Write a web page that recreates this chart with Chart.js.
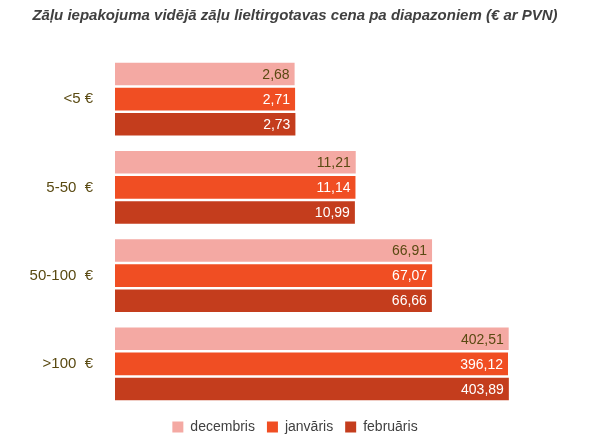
<!DOCTYPE html>
<html><head><meta charset="utf-8">
<script src="https://cdn.jsdelivr.net/npm/chart.js@4"></script>
<style>html,body{margin:0;padding:0;background:#fff}#w{width:597px;height:444px}</style>
</head><body><div id="w"><canvas id="c"></canvas></div>
<script>
const categories = ['<5 €', '5-50  €', '50-100  €', '>100  €'];
const decembris = [2.68, 11.21, 66.91, 402.51];
const janvaris = [2.71, 11.14, 67.07, 396.12];
const februaris = [2.73, 10.99, 66.66, 403.89];
const seriesNames = ['decembris', 'janvāris', 'februāris'];
const colors = ['#F4A9A3', '#F04E23', '#C43D1D'];
const labelColors = ['#5A4A12', '#FFFFFF', '#FFFFFF'];

const valueLabels = {
  id: 'valueLabels',
  afterDatasetsDraw(chart) {
    const ctx = chart.ctx;
    ctx.save();
    ctx.font = '14px "Liberation Sans", Arial, sans-serif';
    ctx.textAlign = 'right';
    ctx.textBaseline = 'middle';
    chart.data.datasets.forEach((ds, i) => {
      chart.getDatasetMeta(i).data.forEach((el, j) => {
        ctx.fillStyle = labelColors[i];
        ctx.fillText(ds.data[j].toFixed(2).replace('.', ','), el.x - 5, el.y + 1);
      });
    });
    ctx.restore();
  }
};

new Chart(document.getElementById('c'), {
  type: 'bar',
  data: {
    labels: categories,
    datasets: [decembris, janvaris, februaris].map((d, i) => ({
      label: seriesNames[i], data: d, backgroundColor: colors[i],
      categoryPercentage: 0.85, barPercentage: 0.9
    }))
  },
  options: {
    indexAxis: 'y', responsive: true, maintainAspectRatio: false, animation: false,
    layout: { padding: { left: 0, right: 7, top: 5, bottom: 0 } },
    plugins: {
      title: { display: true, text: 'Zāļu iepakojuma vidējā zāļu lieltirgotavas cena pa diapazoniem (€ ar PVN)',
        color: '#404040', font: { family: '"Liberation Sans", Arial', size: 15, weight: 'bold', style: 'italic' },
        padding: { top: 2, bottom: 30 } },
      legend: { position: 'bottom', labels: { boxWidth: 11, boxHeight: 11, padding: 12, color: '#404040',
        font: { family: '"Liberation Sans", Arial', size: 14 } } },
      tooltip: { enabled: false }
    },
    scales: {
      x: { type: 'logarithmic', min: 0.04, max: 2700, display: false },
      y: { grid: { display: false }, border: { display: false },
        ticks: { color: '#5A4A12', padding: 14, font: { family: '"Liberation Sans", Arial', size: 15 } },
        afterFit(s) { s.width = 115; } }
    }
  },
  plugins: [valueLabels]
});
</script></body></html>
